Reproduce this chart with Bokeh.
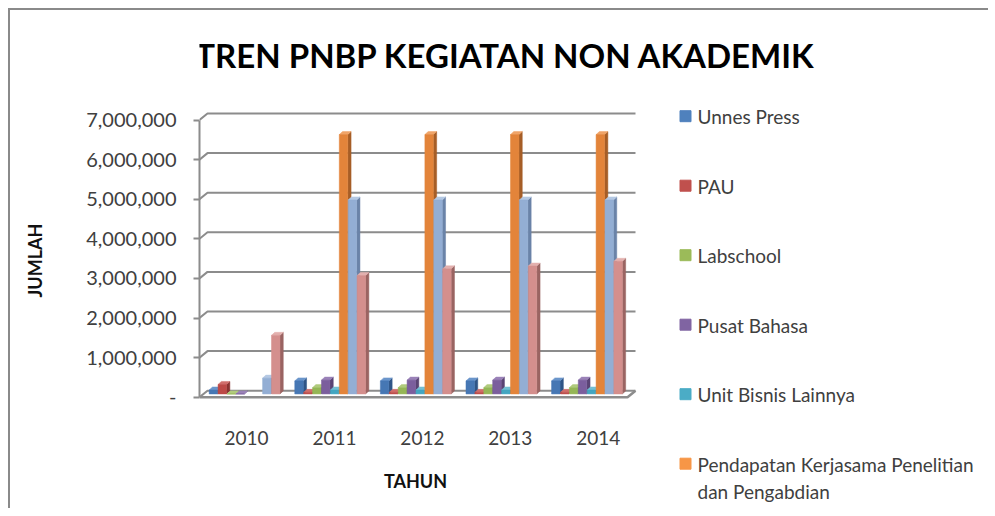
from bokeh.plotting import figure
from bokeh.models import Range1d, FixedTicker, NumeralTickFormatter
from bokeh.embed import file_html
from bokeh.resources import INLINE
from bokeh.core.properties import value

# ---------------- data ----------------
years = ["2010", "2011", "2012", "2013", "2014"]
y_ticks = [0, 1000000, 2000000, 3000000, 4000000, 5000000, 6000000, 7000000]
title_text = "TREN PNBP KEGIATAN NON AKADEMIK"
x_title = "TAHUN"
y_title = "JUMLAH"

unnes_press = [100000, 330000, 330000, 330000, 330000]
pau = [240000, 40000, 40000, 40000, 40000]
labschool = [0, 160000, 160000, 160000, 160000]
pusat_bahasa = [0, 350000, 350000, 350000, 350000]
unit_bisnis_lainnya = [None, 100000, 100000, 100000, 100000]
pendapatan_kerjasama = [None, 6550000, 6550000, 6550000, 6550000]
series_7 = [400000, 4900000, 4900000, 4900000, 4900000]
series_8 = [1480000, 2990000, 3160000, 3230000, 3350000]

series_names = ["Unnes Press", "PAU", "Labschool", "Pusat Bahasa", "Unit Bisnis Lainnya",
                "Pendapatan Kerjasama Penelitian\ndan Pengabdian", "", ""]
series_values = [unnes_press, pau, labschool, pusat_bahasa, unit_bisnis_lainnya,
                 pendapatan_kerjasama, series_7, series_8]

front_colors = ["#4677B4", "#BC4946", "#95B656", "#7B5E9D", "#43A6C1", "#E3843A", "#93AED4", "#D48F8D"]
side_colors = ["#2F5587", "#8A3331", "#6B8740", "#5A4474", "#2F7A8D", "#A65E27", "#6A83A8", "#9A6462"]
top_colors = ["#6A95CB", "#D06E6B", "#B0CB7C", "#9A82B8", "#74C0D4", "#F0A468", "#B4C8E3", "#E3B0AE"]
legend_colors = ["#4F81BD", "#C0504D", "#9BBB59", "#8064A2", "#4BACC6", "#F79646"]

# ---------------- geometry (style) ----------------
PXX = 85.6            # px per category
PXY = 39.6 / 1e6      # px per unit value
DX = 8 / PXX          # back wall offset (x)
DY = 6.5 / PXY        # back wall offset (y)
SX = 3.3 / PXX        # bar depth (x)
SY = 3.0 / PXY        # bar depth (y)
BASE = 3.25 / PXY     # bars stand mid-depth
BAR_START = 0.113
PITCH = 0.104
BAR_W = 0.099
FONT = "Lato"

W, H = 980, 500
ML = 189
ORIGIN = 10            # canvas origin on page (margin + border)
X0_PX = ORIGIN + ML    # page x of data x = 0
Y0_PX = 396.7          # page y of value 0


def dx(px):   # page x -> data x
    return (px - X0_PX) / PXX


def dy(py):   # page y -> data y
    return (Y0_PX - py) / PXY


p = figure(width=W, height=H, output_backend="svg", toolbar_location=None,
           x_axis_location=None,
           x_range=Range1d(0, (W - ML) / PXX),
           y_range=Range1d(dy(ORIGIN + H), dy(ORIGIN)),
           min_border_left=ML, min_border_right=0,
           min_border_top=0, min_border_bottom=0)
p.styles = {"margin-left": "8px", "margin-top": "8px",
            "border-top": "2px solid #8a8a8a", "border-left": "2px solid #8a8a8a"}
p.outline_line_color = None
p.xgrid.visible = False
p.ygrid.visible = False
p.background_fill_color = "white"
p.border_fill_color = "white"

# title
p.text(x=[dx(505)], y=[dy(54)], text=[title_text], text_font=value(FONT),
       text_font_style="bold", text_font_size="33px", text_color="#000000",
       text_align="center", text_baseline="middle")

# back wall gridlines + floor
n = len(years)
xmax = n + DX
p.multi_line(xs=[[0, DX, xmax] for v in y_ticks],
             ys=[[v, v + DY, v + DY] for v in y_ticks],
             line_color="#8c8c8c", line_width=2)
p.line(x=[0, n, n + DX], y=[0, 0, DY], line_color="#8c8c8c", line_width=2.5)

# bars
for k, (vals, fc, sc, tc) in enumerate(zip(series_values, front_colors, side_colors, top_colors)):
    x0s, x1s, bots, tops = [], [], [], []
    for i, v in enumerate(vals):
        if v is None:
            continue
        x0 = i + BAR_START + k * PITCH
        x0s.append(x0)
        x1s.append(x0 + BAR_W)
        bots.append(BASE)
        tops.append(BASE + v)
    side_xs = [[x1, x1 + SX, x1 + SX, x1] for x1 in x1s]
    side_ys = [[b, b + SY, t + SY, t] for b, t in zip(bots, tops)]
    top_xs = [[x0, x1, x1 + SX, x0 + SX] for x0, x1 in zip(x0s, x1s)]
    top_ys = [[t, t, t + SY, t + SY] for t in tops]
    p.patches(xs=side_xs, ys=side_ys, fill_color=sc, line_color=sc, line_width=0.5)
    p.patches(xs=top_xs, ys=top_ys, fill_color=tc, line_color=tc, line_width=0.5)
    p.quad(left=x0s, right=x1s, bottom=bots, top=tops, fill_color=fc, line_color=fc, line_width=0.5)

# y axis
yax = p.yaxis[0]
yax.ticker = FixedTicker(ticks=y_ticks)
yax.formatter = NumeralTickFormatter(format="0,0")
yax.major_label_overrides = {0: "-"}
yax.bounds = (0, y_ticks[-1])
yax.axis_line_color = "#8c8c8c"
yax.axis_line_width = 2
yax.major_tick_line_color = "#8c8c8c"
yax.major_tick_line_width = 2
yax.major_tick_out = 6
yax.major_tick_in = 0
yax.minor_tick_line_color = None
yax.major_label_standoff = 17
yax.major_label_text_font = FONT
yax.major_label_text_font_size = "20px"
yax.major_label_text_color = "#404040"
yax.axis_label = y_title
yax.axis_label_text_font = FONT
yax.axis_label_text_font_style = "bold"
yax.axis_label_text_font_size = "18px"
yax.axis_label_text_color = "#111111"
yax.axis_label_standoff = 37

# category labels and x title
x_tick_pos = [i + 0.55 + 0.027 * i for i in range(n)]
p.text(x=x_tick_pos, y=[dy(437)] * n, text=years, text_font=value(FONT),
       text_font_size="19px", text_color="#404040", text_align="center", text_baseline="middle")
p.text(x=[dx(415)], y=[dy(480)], text=[x_title], text_font=value(FONT),
       text_font_style="bold", text_font_size="18px", text_color="#111111",
       text_align="center", text_baseline="middle")

# legend (only the first six entries are visible in the original)
LEG_TOP = 115.7
LEG_STEP = 69.5
leg_y = [dy(LEG_TOP + LEG_STEP * k) for k in range(6)]
p.scatter(x=[dx(685)] * 6, y=leg_y, marker="square", size=11,
          fill_color=legend_colors, line_color=legend_colors)
p.text(x=[dx(697)] * 6, y=[dy(LEG_TOP + LEG_STEP * k - 11) for k in range(6)],
       text=series_names[:6], text_font=value(FONT), text_font_size="19px",
       text_color="#404040", text_align="left", text_baseline="top",
       text_line_height=1.2)

open("out.html", "w").write(file_html(p, INLINE))
